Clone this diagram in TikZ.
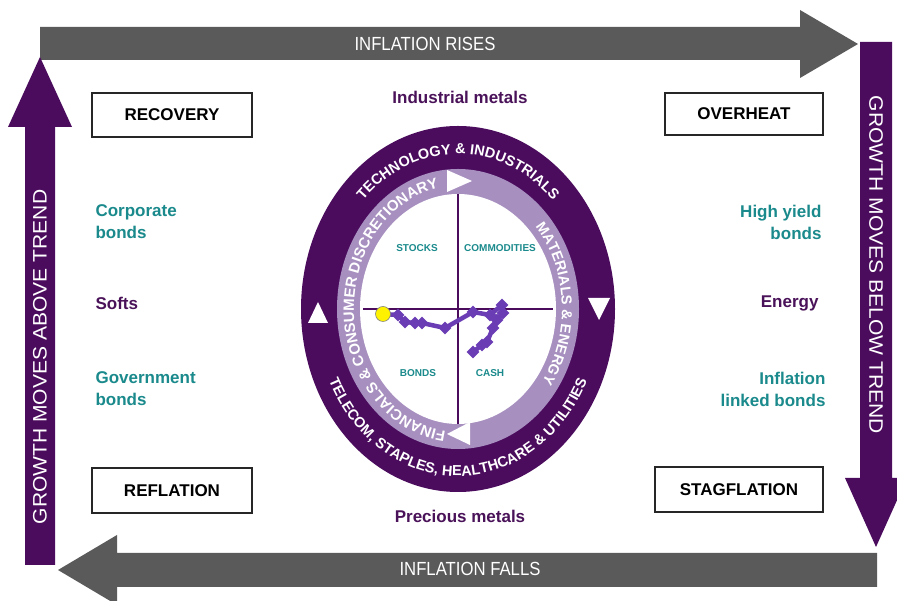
\documentclass[tikz,border=0pt]{standalone}
\usepackage{fontspec}
\setmainfont{Liberation Sans}
\newfontfamily\narrowsans{Liberation Sans}[FakeStretch=0.88]
\newfontfamily\widesans{Liberation Sans}[FakeStretch=1.08]
\newfontfamily\ringsans{Liberation Sans}
\usetikzlibrary{shapes.geometric,decorations.text,calc}

\definecolor{arrowgray}{HTML}{5A5A5A}
\definecolor{deeppurple}{HTML}{4B0C5E}
\definecolor{ringlilac}{HTML}{A790C0}
\definecolor{tealtext}{HTML}{1B8A8C}
\definecolor{plumtext}{HTML}{4A1259}
\definecolor{tracker}{HTML}{6A3DB4}

\tikzset{
  phasebox/.style={draw=black!85, line width=1.8pt, fill=white, inner sep=0pt,
    font=\bfseries\fontsize{17}{17}\selectfont},
  arrowlabel/.style={text=white, font=\narrowsans\fontsize{19}{19}\selectfont},
  sidelabel/.style={text=white, font=\widesans\fontsize{19.5}{19.5}\selectfont},
  asset/.style={text=tealtext, font=\bfseries\fontsize{17}{22}\selectfont},
  commodity/.style={text=plumtext, font=\bfseries\fontsize{17}{22}\selectfont},
  quadlabel/.style={text=tealtext, font=\bfseries\fontsize{10}{10}\selectfont},
  marker/.style={diamond, fill=tracker, inner sep=0pt, minimum size=13pt},
  cycletip/.style={fill=white},
}

\begin{document}
\begin{tikzpicture}[x=1pt,y=1pt]
\useasboundingbox (0,0) rectangle (897,601);
\fill[white] (0,0) rectangle (897,601);

% big gray arrows: inflation rises (top) and falls (bottom)
\fill[arrowgray] (40,541) -- (40,574) -- (800,574) -- (800,591) -- (858,557)
  -- (800,523) -- (800,541) -- cycle;
\fill[arrowgray] (877,48) -- (117,48) -- (117,66) -- (58,31) -- (117,-4)
  -- (117,14) -- (877,14) -- cycle;
% big purple arrows: growth above / below trend
\fill[deeppurple] (25,36) -- (25,474) -- (8,474) -- (40,544) -- (72,474)
  -- (55,474) -- (55,36) -- cycle;
\fill[deeppurple] (860,559) -- (860,123) -- (845,123) -- (876,54) -- (907,123)
  -- (892,123) -- (892,559) -- cycle;

\node[arrowlabel] (rises) at (425,557) {INFLATION RISES};
\node[arrowlabel] (falls) at (470,32) {INFLATION FALLS};
\node[sidelabel, rotate=90] (above) at (40,244) {GROWTH MOVES ABOVE TREND};
\node[sidelabel, rotate=-90] (below) at (876,336) {GROWTH MOVES BELOW TREND};

% phase boxes
\node[phasebox, minimum width=160pt, minimum height=44pt] (recovery) at (172,486) {RECOVERY};
\node[phasebox, minimum width=158pt, minimum height=42pt] (overheat) at (744,487) {OVERHEAT};
\node[phasebox, minimum width=160pt, minimum height=45pt] (reflation) at (172,110.5) {REFLATION};
\node[phasebox, minimum width=168pt, minimum height=45pt] (stagflation) at (739,111.5) {STAGFLATION};

% asset classes
\node[commodity] (indmetals) at (460,504) {Industrial metals};
\node[commodity] (precmetals) at (460,85) {Precious metals};
\node[asset, anchor=west, align=left] (corp) at (92,379) {Corporate\\bonds};
\node[commodity, anchor=west] (softs) at (92,298) {Softs};
\node[asset, anchor=west, align=left] (govt) at (92,212) {Government\\bonds};
\node[asset, anchor=east, align=right] (hy) at (825,379) {High yield\\bonds};
\node[commodity, anchor=east] (energy) at (822,298) {Energy};
\node[asset, anchor=east, align=right] (linkers) at (829,212) {Inflation\\linked bonds};

% investment clock
\coordinate (C) at (458,292);
\fill[deeppurple] (C) ellipse[x radius=157pt, y radius=183pt];
\fill[ringlilac] (C) ellipse[x radius=121pt, y radius=140pt];
\fill[white] (C) ellipse[x radius=98pt, y radius=115pt];
\draw[deeppurple, line width=1.4pt] ($(C)+(0,115)$) -- ($(C)+(0,-115)$);
\draw[deeppurple, line width=1.4pt] ($(C)+(-95,0)$) -- ($(C)+(95,0)$);

% sector names round the clock
\path[decorate, decoration={text along path, text align=center,
  text={|\ringsans\bfseries\fontsize{14.5}{14.5}\selectfont\color{white}|TECHNOLOGY {\&} INDUSTRIALS}}]
  ($(C)+(140:133pt and 155pt)$) arc[start angle=140, end angle=40, x radius=133pt, y radius=155pt];
\path[decorate, decoration={text along path, text align=center,
  text={|\ringsans\bfseries\fontsize{14.5}{14.5}\selectfont\color{white}|TELECOM, STAPLES, HEALTHCARE {\&} UTILITIES}}]
  ($(C)+(196:143pt and 167pt)$) arc[start angle=196, end angle=344, x radius=143pt, y radius=167pt];
\path[decorate, decoration={text along path, text align=center,
  text={|\ringsans\bfseries\fontsize{15}{15}\selectfont\color{white}|FINANCIALS {\&} CONSUMER DISCRETIONARY}}]
  ($(C)+(266:104pt and 123pt)$) arc[start angle=266, end angle=98, x radius=104pt, y radius=123pt];
\path[decorate, decoration={text along path, text align=center,
  text={|\ringsans\bfseries\fontsize{14.5}{14.5}\selectfont\color{white}|MATERIALS {\&} ENERGY}}]
  ($(C)+(48:104pt and 123pt)$) arc[start angle=48, end angle=-42, x radius=104pt, y radius=123pt];

% direction triangles
\fill[cycletip] (447,431) -- (447,409) -- (472,420) -- cycle;
\fill[cycletip] (470,179) -- (470,156) -- (447,167) -- cycle;
\fill[cycletip] (308,278) -- (328,278) -- (318,299) -- cycle;
\fill[cycletip] (588,303) -- (610,303) -- (599,281) -- cycle;

% quadrant names
\node[quadlabel] (stocks) at (417,353) {STOCKS};
\node[quadlabel] (commod) at (500,353) {COMMODITIES};
\node[quadlabel] (bonds) at (418,228) {BONDS};
\node[quadlabel] (cash) at (490,228) {CASH};

% tracker path
\coordinate (t0) at (383,287);
\coordinate (t1) at (398,286);
\coordinate (t2) at (405,279);
\coordinate (t3) at (415,278);
\coordinate (t4) at (422,278);
\coordinate (t5) at (445,273);
\coordinate (t6) at (473,289);
\coordinate (t7) at (490,286);
\coordinate (t8) at (502,296);
\coordinate (t9) at (503,288);
\coordinate (t10) at (497,281);
\coordinate (t11) at (493,273);
\coordinate (t12) at (487,259);
\coordinate (t13) at (482,256);
\coordinate (t14) at (473,249);
\draw[tracker, line width=4.5pt, line join=round]
  (t0) -- (t1) -- (t2) -- (t3) -- (t4) -- (t5) -- (t6) -- (t7) -- (t8)
  -- (t9) -- (t10) -- (t11) -- (t12) -- (t13) -- (t14);
\foreach \i in {1,...,14} { \node[marker] (m\i) at (t\i) {}; }
\node[circle, fill=yellow, draw=black!50, line width=0.6pt, minimum size=15pt, inner sep=0pt] (now) at (t0) {};
\end{tikzpicture}
\end{document}
